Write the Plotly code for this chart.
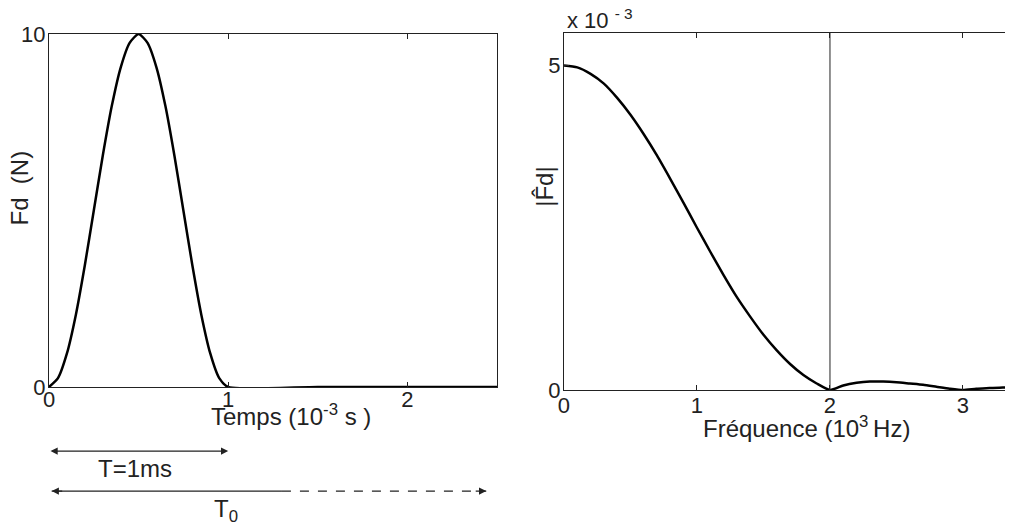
import plotly.graph_objs as go

# impulsion Fd(t), temps en ms
temps = [0.0, 0.05, 0.1, 0.15, 0.2, 0.25, 0.3, 0.35, 0.4, 0.45, 0.5,
         0.55, 0.6, 0.65, 0.7, 0.75, 0.8, 0.85, 0.9, 0.95, 1.0, 1.5, 2.0, 2.5]
fd = [0.0, 0.25, 0.95, 2.05, 3.45, 5.0, 6.55, 7.95, 9.05, 9.75, 10.0,
      9.75, 9.05, 7.95, 6.55, 5.0, 3.45, 2.05, 0.95, 0.25, 0.0, 0.0, 0.0, 0.0]

# module du spectre, fréquence en kHz, amplitude en 10^-3
freq = [0.0, 0.1, 0.2, 0.3, 0.4, 0.5, 0.6, 0.7, 0.8, 0.9, 1.0,
        1.1, 1.2, 1.3, 1.4, 1.5, 1.6, 1.7, 1.8, 1.9, 2.0,
        2.1, 2.2, 2.3, 2.4, 2.5, 2.6, 2.7, 2.8, 2.9, 3.0,
        3.1, 3.2, 3.3, 3.4, 3.5]
fd_hat = [5.0, 4.97, 4.87, 4.72, 4.5, 4.24, 3.94, 3.61, 3.25, 2.88, 2.5,
          2.13, 1.77, 1.43, 1.13, 0.85, 0.61, 0.4, 0.23, 0.1, 0.0,
          0.07, 0.11, 0.13, 0.13, 0.12, 0.1, 0.08, 0.05, 0.02, 0.0,
          0.02, 0.03, 0.04, 0.04, 0.04]

# repères de durée sous le graphe de gauche
T_debut, T_fin = 0.0, 1.0
T0_debut, T0_plein, T0_fin = 0.015, 1.3, 2.44

police = dict(family='Liberation Sans, Arial, sans-serif', size=22, color='#222')
police_titre = dict(family='Liberation Sans, Arial, sans-serif', size=24, color='#222')
noir = '#222'

pulse = go.Scatter(x=temps, y=fd, mode='lines', line=dict(color='black', width=2.5, shape='spline', smoothing=0.6),
                   xaxis='x', yaxis='y', showlegend=False)
spectre = go.Scatter(x=freq, y=fd_hat, mode='lines', line=dict(color='black', width=2.5, shape='spline', smoothing=0.6),
                     xaxis='x2', yaxis='y2', showlegend=False)

axe = dict(showline=True, linecolor=noir, linewidth=1, ticks='inside', ticklen=5, tickcolor=noir,
           showgrid=False, zeroline=False, tickfont=police, mirror='ticks', automargin=False)

# la page ajoute 8 px de marge autour de la figure
layout = dict(width=1005, height=516, margin=dict(l=41, r=0, t=25, b=134),
              paper_bgcolor='white', plot_bgcolor='white', font=police, template='none',
              xaxis=dict(axe, domain=[0, 0.4647], range=[0, 2.5], tickvals=[0, 1, 2], anchor='y',
                         ticklabelstandoff=-7),
              yaxis=dict(axe, domain=[0.0084, 0.9972], range=[0, 10], tickvals=[0, 10], anchor='x',
                         ticklabelstandoff=-2),
              xaxis2=dict(axe, domain=[0.5342, 1], range=[0, 3.376], tickvals=[0, 1, 2, 3], anchor='y2',
                          ticklabelstandoff=-4),
              yaxis2=dict(axe, domain=[0, 1], range=[0, 5.5], tickvals=[0, 5], anchor='x2', mirror=False,
                          ticklabelstandoff=-2))

fig = go.Figure(data=[pulse, spectre], layout=layout)

# trait vertical à 2 kHz
fig.add_vline(x=2, line=dict(color=noir, width=1), xref='x2', yref='y2')

# titres des axes
fig.add_annotation(text='Temps (10<sup>-3</sup> s )', x=1.35, y=-0.118, xref='x', yref='paper',
                   showarrow=False, font=police_titre)
fig.add_annotation(text='Fréquence (10<sup>3 </sup>Hz)', x=1.82, y=-0.151, xref='x2', yref='paper',
                   showarrow=False, font=police_titre)
fig.add_annotation(text='Fd\u00a0\u00a0(N)', x=-0.0466, y=0.566, xref='paper', yref='paper', textangle=-90,
                   showarrow=False, font=police_titre)
fig.add_annotation(text='|F\u0302d|', x=0.5145, y=0.569, xref='paper', yref='paper', textangle=-90,
                   showarrow=False, font=police_titre)
fig.add_annotation(text='x 10 <sup>- 3</sup>', x=0.5353, y=1.084, xref='paper', yref='paper',
                   xanchor='left', showarrow=False)

# flèche T = 1 ms
fig.add_annotation(x=T_fin, y=-0.171, ax=T_debut, ay=0, xref='x', yref='paper', axref='x', ayref='pixel',
                   text='', showarrow=True, arrowside='end+start', arrowhead=2, arrowsize=1.2, arrowwidth=1.2,
                   arrowcolor=noir)
fig.add_annotation(text='T=1ms', x=0.48, y=-0.263, xref='x', yref='paper', showarrow=False, font=police_titre)

# flèche T0 : partie pleine puis pointillés
fig.add_shape(type='line', x0=T0_debut, x1=T0_plein, y0=-0.283, y1=-0.283, xref='x', yref='paper',
              line=dict(color=noir, width=1.2))
fig.add_shape(type='line', x0=T0_plein, x1=T0_fin, y0=-0.283, y1=-0.283, xref='x', yref='paper',
              line=dict(color=noir, width=1.2, dash='dash'))
fig.add_annotation(x=T0_debut, y=-0.283, ax=12, ay=0, xref='x', yref='paper', text='', showarrow=True,
                   arrowhead=2, arrowsize=1.2, arrowwidth=1.2, arrowcolor=noir)
fig.add_annotation(x=T0_fin, y=-0.283, ax=-12, ay=0, xref='x', yref='paper', text='', showarrow=True,
                   arrowhead=2, arrowsize=1.2, arrowwidth=1.2, arrowcolor=noir)
fig.add_annotation(text='T<sub>0</sub>', x=0.99, y=-0.387, xref='x', yref='paper', showarrow=False,
                   font=police_titre)

fig.write_html('out.html')
